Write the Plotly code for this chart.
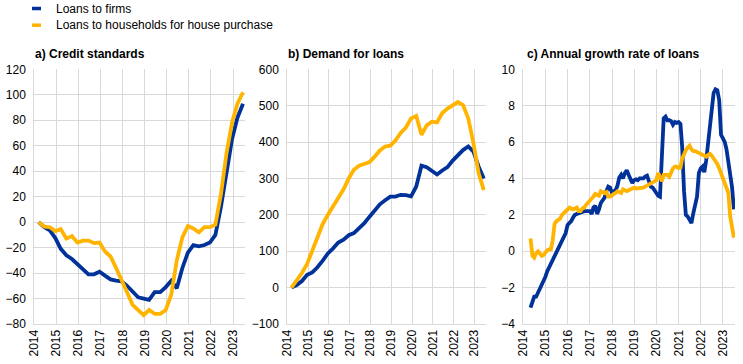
import plotly.graph_objects as go
import pandas as pd

# ---------------- data ----------------
series_names = ["Loans to firms", "Loans to households for house purchase"]
panel_titles = ["a) Credit standards", "b) Demand for loans", "c) Annual growth rate of loans"]
year_ticks = [str(y) for y in range(2014, 2024)]

# quarterly, 2014Q1 - 2023Q2 (cumulated net percentages)
quarter_dates = [f"{y}-{m:02d}-15" for y in range(2014, 2024) for m in (3, 6, 9, 12)][:38]

credit_firms = [0, -4, -6.5, -12.5, -21, -26, -29, -33, -37, -41, -41, -39, -42, -45, -46, -46.5,
                -50, -55, -59, -60, -61, -55, -55, -51, -46, -52, -36, -24, -18, -19, -18, -16,
                -10, 12, 40, 65, 82, 93]
credit_households = [0, -3.5, -4, -7, -5.5, -13, -11, -16, -14.5, -14.5, -16.5, -16, -23, -27, -36, -45,
                     -55, -65, -69, -73, -69, -72, -72, -69, -57, -30, -12, -3, -5, -8, -4, -4,
                     -2, 22, 54, 78, 93, 102]

demand_firms = [0, 7, 18, 35, 42, 56, 74, 94, 108, 124, 132, 144, 150, 163, 177, 195,
                212, 229, 240, 250, 250, 255, 254, 251, 278, 335, 331, 322, 311, 322, 331, 349,
                363, 378, 388, 374, 333, 300]
demand_households = [0, 19, 40, 65, 101, 142, 175, 200, 222, 249, 270, 300, 324, 335, 341, 345,
                     360, 377, 388, 390, 404, 425, 440, 465, 472, 420, 446, 456, 454, 480, 492, 501,
                     510, 502, 465, 397, 315, 268]

# monthly, Apr 2014 - Jun 2023 (annual growth rates, %)
month_dates = pd.date_range("2014-04-30", periods=111, freq="ME")
growth_firms = [
    -3.1, -2.8, -2.5, -2.5, -2.3, -2.0, -1.8, -1.6, -1.4, -1.1,
    -0.9, -0.75, -0.55, -0.25, -0.05, 0.1, 0.35, 0.55, 0.75, 1.0,
    1.45, 1.55, 1.65, 1.85, 2.0, 2.05, 2.1, 2.1, 2.15, 2.2,
    2.2, 2.2, 2.2, 2.05, 2.4, 2.5, 2.05, 2.3, 2.65, 2.8,
    2.95, 3.3, 3.55, 3.5, 3.2, 3.3, 3.35, 3.6, 4.05, 4.2,
    4.0, 4.3, 4.45, 4.2, 4.0, 3.75, 3.9, 3.95, 3.9, 4.0,
    4.0, 4.0, 4.1, 4.15, 3.85, 3.55, 3.5, 3.35, 3.2, 3.05,
    3.0, 5.2, 7.3, 7.4, 7.2, 7.2, 7.15, 6.95, 7.1, 7.05,
    7.1, 7.0, 5.75, 3.3, 2.0, 1.9, 1.7, 1.55, 2.1, 2.5,
    3.0, 4.3, 4.55, 4.65, 4.35, 5.0, 6.0, 7.0, 7.6, 8.7,
    8.9, 8.85, 8.3, 6.4, 6.2, 6.0, 5.6, 4.9, 4.3, 3.5,
    2.3]
growth_households = [
    0.7, -0.25, -0.35, -0.1, 0.0, -0.15, -0.25, -0.2, -0.05, 0.05,
    0.1, 0.1, 0.6, 1.5, 1.65, 1.7, 1.8, 2.0, 2.1, 2.25,
    2.3, 2.4, 2.35, 2.3, 2.35, 2.4, 2.2, 2.2, 2.35, 2.4,
    2.55, 2.65, 2.75, 2.9, 3.0, 3.15, 3.1, 3.05, 3.3, 3.25,
    3.2, 3.25, 3.0, 3.0, 3.1, 3.15, 3.2, 3.3, 3.25, 3.2,
    3.4, 3.35, 3.3, 3.35, 3.4, 3.45, 3.5, 3.45, 3.45, 3.5,
    3.45, 3.5, 3.55, 3.6, 3.65, 3.7, 3.8, 3.85, 3.9, 4.3,
    4.1, 3.85, 4.2, 4.2, 4.2, 4.1, 4.35, 4.55, 4.65, 4.65,
    4.57, 4.6, 5.1, 5.35, 5.55, 5.7, 5.8, 5.6, 5.5, 5.5,
    5.45, 5.4, 5.35, 5.3, 5.3, 5.2, 5.3, 5.35, 5.25, 5.1,
    5.0, 4.8, 4.55, 4.3, 4.0, 3.7, 3.45, 3.2, 1.9, 1.35,
    0.75]

# ---------------- styling ----------------
W, H = 743, 364
BLUE = "#003299"
YELLOW = "#FFB400"
GRID = "#d9d9d9"
FONT = "Liberation Sans, Arial, sans-serif"
LW = 3.8

panels = [
    dict(x=quarter_dates, firms=credit_firms, hh=credit_households, yr=[-80, 120], dt=20,
         px=(34.3, 245.0), title_x=33),
    dict(x=quarter_dates, firms=demand_firms, hh=demand_households, yr=[-100, 600], dt=100,
         px=(287.3, 485.7), title_x=286),
    dict(x=month_dates, firms=growth_firms, hh=growth_households, yr=[-4, 10], dt=2,
         px=(523.3, 735.0), title_x=525),
]
y_dom = [(H - 324.0) / H, (H - 69.3) / H]

fig = go.Figure()
layout = dict(
    width=W, height=H, margin=dict(l=0, r=0, t=0, b=0, autoexpand=False),
    paper_bgcolor="white", plot_bgcolor="white", showlegend=False,
    font=dict(family=FONT, size=12, color="#000000"),
)
annotations = []
shapes = []
tickvals = [f"{y}-01-01" for y in year_ticks]

for i, p in enumerate(panels):
    n = "" if i == 0 else str(i + 1)
    fig.add_trace(go.Scatter(x=p["x"], y=p["firms"], mode="lines", name=series_names[0],
                             line=dict(color=BLUE, width=LW), xaxis="x" + n, yaxis="y" + n))
    fig.add_trace(go.Scatter(x=p["x"], y=p["hh"], mode="lines", name=series_names[1],
                             line=dict(color=YELLOW, width=LW), xaxis="x" + n, yaxis="y" + n))
    layout["xaxis" + n] = dict(
        domain=[p["px"][0] / W, p["px"][1] / W], anchor="y" + n, type="date",
        range=["2014-01-01", "2023-07-18"], tickmode="array", tickvals=tickvals,
        ticktext=year_ticks, tickangle=-90, showgrid=True, gridcolor=GRID, gridwidth=1,
        zeroline=False, showline=True, linecolor=GRID, linewidth=1, ticks="",
        tickfont=dict(size=12, color="#000000"), automargin=False,
    )
    layout["yaxis" + n] = dict(
        domain=y_dom, anchor="x" + n, range=p["yr"], dtick=p["dt"], tick0=0,
        showgrid=True, gridcolor=GRID, gridwidth=1, zeroline=False,
        showline=True, linecolor=GRID, linewidth=1, ticks="", ticklabelstandoff=5,
        tickfont=dict(size=12, color="#000000"), automargin=False,
    )
    annotations.append(dict(text="<b>" + panel_titles[i] + "</b>", xref="paper", yref="paper",
                            x=p["title_x"] / W, y=1 - 53.5 / H, xanchor="left", yanchor="middle",
                            showarrow=False, font=dict(size=12, color="#000000")))

# legend (manual)
for j, (name, col) in enumerate(zip(series_names, [BLUE, YELLOW])):
    yc = 8.5 + j * 16.7
    shapes.append(dict(type="line", xref="paper", yref="paper", x0=32 / W, x1=41 / W,
                       y0=1 - yc / H, y1=1 - yc / H, line=dict(color=col, width=3.5)))
    annotations.append(dict(text=name, xref="paper", yref="paper", x=54 / W, y=1 - yc / H,
                            xanchor="left", yanchor="middle", showarrow=False,
                            font=dict(size=12, color="#000000")))

layout["annotations"] = annotations
layout["shapes"] = shapes
fig.update_layout(**layout)
fig.write_html("out.html", config={"displayModeBar": False},
               post_script="document.body.style.margin='0';")
